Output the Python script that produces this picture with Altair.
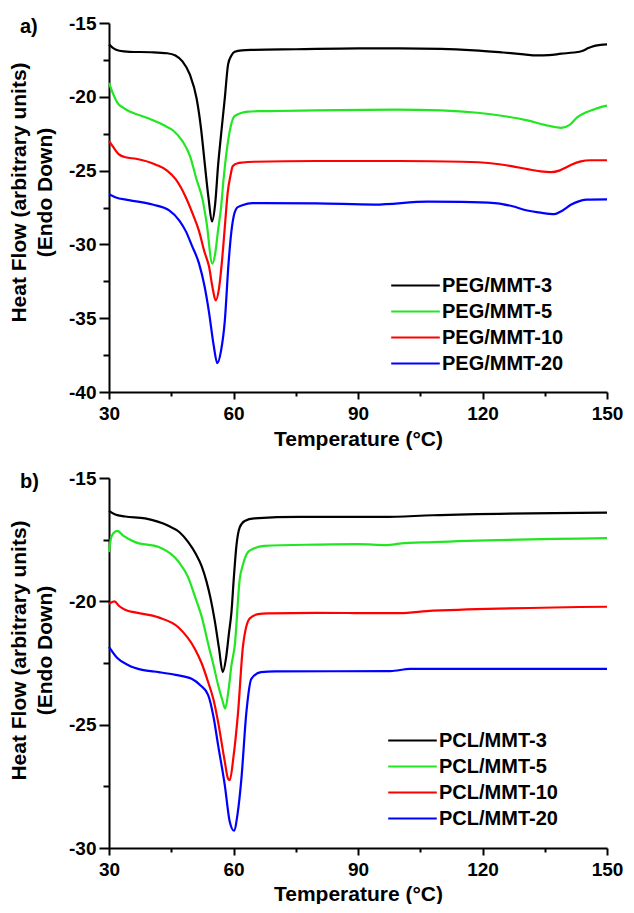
import altair as alt
import pandas as pd

FONT = "Liberation Sans"

# ---------------- panel a) PEG/MMT ----------------
peg_names = ["PEG/MMT-3", "PEG/MMT-5", "PEG/MMT-10", "PEG/MMT-20"]
peg3_t = [30, 31, 32.5, 35, 40, 44, 46, 47.7, 49.5, 51.1, 52.2, 53.1, 54, 54.8, 55.6, 56.3, 57.1, 57.9, 58.7,
          59.5, 60.3, 62, 65, 75, 90, 100, 110, 118, 125, 130, 133, 136, 139, 142, 144, 145.5, 147, 148.5, 150]
peg3_v = [-16.45, -16.7, -16.88, -16.95, -16.98, -17.05, -17.2, -17.6, -18.5, -20.1, -22.2, -24.6, -26.9, -28.45,
          -27.2, -24.6, -22.3, -20.1, -17.8, -17.2, -16.95, -16.85, -16.82, -16.78, -16.72, -16.72, -16.75, -16.85,
          -17.0, -17.12, -17.2, -17.18, -17.08, -17.0, -16.9, -16.7, -16.55, -16.48, -16.45]
peg5_t = [30, 31, 32, 33.4, 35, 38.9, 43, 45.5, 47.7, 49.5, 51.1, 52.5, 53.5, 54.9, 55.6, 56.3, 57, 57.6, 58.8,
          60.3, 63.5, 67, 80, 99, 110, 118.8, 125, 130.8, 135, 139, 141, 142.8, 145, 146.9, 148.5, 150]
peg5_v = [-19.05, -19.8, -20.4, -20.74, -21.0, -21.4, -21.9, -22.3, -23.0, -24.0, -25.6, -26.9, -28.5, -31.3,
          -30.6, -29.0, -27.5, -25.6, -22.8, -21.3, -21.0, -20.97, -20.92, -20.87, -20.92, -21.08, -21.3, -21.6,
          -21.9, -22.1, -21.9, -21.4, -21.05, -20.85, -20.7, -20.6]
peg10_t = [30, 31, 32.4, 34, 36.5, 41.3, 44, 46.1, 48.5, 50.2, 51.7, 53, 54.1, 55, 55.7, 56.5, 57.3, 58, 58.6,
           59.3, 59.8, 61, 62.2, 65, 80, 100, 115, 122, 127, 130.8, 134, 136.5, 138.5, 140, 141.4, 143.7, 146, 150]
peg10_v = [-22.98, -23.4, -23.9, -24.1, -24.2, -24.6, -25.0, -25.6, -26.8, -27.95, -29.1, -30.5, -31.5, -33.0,
           -33.8, -33.0, -30.9, -28.5, -26.5, -25.3, -24.7, -24.5, -24.45, -24.4, -24.35, -24.35, -24.4, -24.5,
           -24.7, -24.9, -25.05, -25.1, -25.0, -24.8, -24.6, -24.37, -24.3, -24.3]
peg20_t = [30, 31.5, 34.8, 40.5, 44.5, 47, 48.5, 50, 51.7, 53, 54.1, 55.2, 56.1, 57, 57.9, 58.8, 59.5, 60.2,
           60.9, 62.1, 64.5, 67, 80, 94, 106.8, 115, 122.9, 127, 130.8, 134, 137.3, 139, 141.4, 143, 145, 150]
peg20_v = [-26.6, -26.8, -27.0, -27.3, -27.7, -28.4, -29.1, -30.1, -31.3, -32.8, -34.6, -36.8, -38.05, -37.2,
           -35.2, -31.3, -29.1, -27.9, -27.5, -27.35, -27.2, -27.2, -27.22, -27.3, -27.1, -27.12, -27.2, -27.4,
           -27.7, -27.85, -27.95, -27.75, -27.3, -27.1, -26.97, -26.95]

# ---------------- panel b) PCL/MMT ----------------
pcl_names = ["PCL/MMT-3", "PCL/MMT-5", "PCL/MMT-10", "PCL/MMT-20"]
pcl3_t = [30, 31.5, 33.9, 38.7, 44.3, 47, 49.1, 51, 52.3, 53.5, 54.5, 55.5, 56.5, 57.4, 58.2, 58.9, 59.5, 60.1,
          60.7, 61.5, 62.7, 65, 76, 96, 108, 150]
pcl3_v = [-16.33, -16.48, -16.56, -16.64, -16.94, -17.2, -17.6, -18.1, -18.56, -19.2, -19.9, -20.8, -21.9,
          -22.87, -22.3, -21.3, -20.45, -19.0, -17.75, -17.0, -16.74, -16.64, -16.58, -16.58, -16.51, -16.4]
pcl5_t = [30, 30.4, 31, 32, 33.5, 36.3, 42, 46.8, 49, 50.7, 52.3, 54, 55.2, 56.3, 57.3, 58, 58.8, 59.5, 60.3,
          61.5, 62.3, 63.5, 65, 67.4, 80, 90, 97, 100, 108, 150]
pcl5_v = [-18.0, -17.5, -17.25, -17.14, -17.35, -17.6, -17.8, -18.4, -19.0, -19.8, -20.6, -21.8, -22.6, -23.4,
          -24.0, -24.35, -23.6, -22.6, -21.8, -19.1, -18.5, -18.0, -17.85, -17.75, -17.7, -17.68, -17.72, -17.66,
          -17.6, -17.44]
pcl10_t = [30, 31.3, 32.5, 34, 36.3, 41.9, 46.7, 50.7, 52.3, 53.9, 55.2, 56.3, 57.9, 58.7, 59.1, 60.0, 61.1,
           62.3, 63.9, 65.9, 68.3, 80, 100, 108, 150]
pcl10_v = [-20.1, -20.0, -20.2, -20.35, -20.45, -20.65, -21.05, -21.93, -22.5, -23.28, -24.0, -24.9, -26.5,
           -27.2, -27.25, -26.3, -24.5, -21.8, -20.7, -20.52, -20.49, -20.47, -20.48, -20.38, -20.22]
pcl20_t = [30, 30.4, 32, 34.8, 38, 42, 46, 49.9, 52, 53.9, 55.2, 56.3, 57.9, 59.1, 60.1, 61, 61.9, 63.1, 64.3,
           66.6, 70, 97.8, 102.6, 150]
pcl20_v = [-21.85, -21.95, -22.3, -22.6, -22.78, -22.87, -22.98, -23.14, -23.4, -23.8, -24.7, -25.84, -27.45,
           -28.94, -29.3, -28.6, -27.2, -24.5, -23.14, -22.87, -22.84, -22.83, -22.74, -22.74]

colors = ["#000000", "#22e622", "#ff0000", "#0000ff"]

x_ticks = [30, 45, 60, 75, 90, 105, 120, 135, 150]
ya_ticks = [-40, -37.5, -35, -32.5, -30, -27.5, -25, -22.5, -20, -17.5, -15]
yb_ticks = [-30, -27.5, -25, -22.5, -20, -17.5, -15]


def frame(names, ts, vs):
    rows = []
    for n, t, v in zip(names, ts, vs):
        for a, b in zip(t, v):
            rows.append({"s": n, "T": a, "v": b})
    return pd.DataFrame(rows)


df_a = frame(peg_names, [peg3_t, peg5_t, peg10_t, peg20_t], [peg3_v, peg5_v, peg10_v, peg20_v])
df_b = frame(pcl_names, [pcl3_t, pcl5_t, pcl10_t, pcl20_t], [pcl3_v, pcl5_v, pcl10_v, pcl20_v])


def xaxis(tpad):
    return alt.Axis(values=x_ticks, labelExpr="datum.value % 30 === 0 ? '' + datum.value : ''",
                    tickSize={"condition": {"test": "datum.value % 30 !== 0", "value": 4}, "value": 7},
                    title="Temperature (°C)", grid=False, domainColor="black", domainWidth=2,
                    tickColor="black", tickWidth=2, labelFont=FONT, labelFontSize=19, labelFontWeight="bold",
                    labelColor="black", labelPadding=5, labelFlush=False, titleFont=FONT, titleFontSize=21,
                    titleFontWeight="bold", titleColor="black", titlePadding=tpad)


def yaxis(vals, ty):
    return alt.Axis(values=vals, labelExpr="datum.value % 5 === 0 ? '' + datum.value : ''",
                    tickSize={"condition": {"test": "datum.value % 5 !== 0", "value": 6}, "value": 10},
                    title=["Heat Flow (arbitrary units)", "(Endo Down)"], grid=False, domainColor="black",
                    domainWidth=2, tickColor="black", tickWidth=2, labelFont=FONT, labelFontSize=19,
                    labelFontWeight="bold", labelColor="black", labelPadding=3, labelFlush=False,
                    titleFont=FONT, titleFontSize=21, titleFontWeight="bold", titleColor="black",
                    titleLineHeight=26, titlePadding=13, titleY=ty)


def legend(lx, ly):
    return alt.Legend(orient="none", legendX=lx, legendY=ly, title=None, padding=0,
                      symbolType="M-2.7,0H2.7", symbolSize=324, symbolStrokeWidth=2.2,
                      labelFont=FONT, labelFontSize=20, labelFontWeight="bold", labelColor="black",
                      labelOffset=16, rowPadding=5)


def panel(df, names, ydom, yvals, ty, lx, ly, letter, w, h, tpad):
    lines = alt.Chart(df).mark_line(interpolate="monotone", strokeWidth=2.2).encode(
        x=alt.X("T:Q", scale=alt.Scale(domain=[30, 150], nice=False, zero=False), axis=xaxis(tpad)),
        y=alt.Y("v:Q", scale=alt.Scale(domain=ydom, nice=False, zero=False), axis=yaxis(yvals, ty)),
        color=alt.Color("s:N", scale=alt.Scale(domain=names, range=colors), sort=names, legend=legend(lx, ly)),
        order=alt.Order("T:Q"),
    )
    lab = alt.Chart(pd.DataFrame({"t": [letter]})).mark_text(
        font=FONT, fontSize=20, fontWeight="bold", align="left", baseline="alphabetic", color="black"
    ).encode(text="t:N", x=alt.value(-89), y=alt.value(10))
    return alt.layer(lines, lab).properties(width=w, height=h)


top = panel(df_a, peg_names, [-40, -15], ya_ticks, 169, 296, 252, "a)", 498, 369, 5)
bottom = panel(df_b, pcl_names, [-30, -15], yb_ticks, 172, 293, 252, "b)", 498, 370, 4)

chart = alt.vconcat(top, bottom, spacing=20).resolve_scale(color="independent").configure_view(
    stroke=None).properties(padding={"left": 0, "top": 6, "right": 0, "bottom": 0})

chart.save("out.html", embed_options={"renderer": "svg", "actions": False})
